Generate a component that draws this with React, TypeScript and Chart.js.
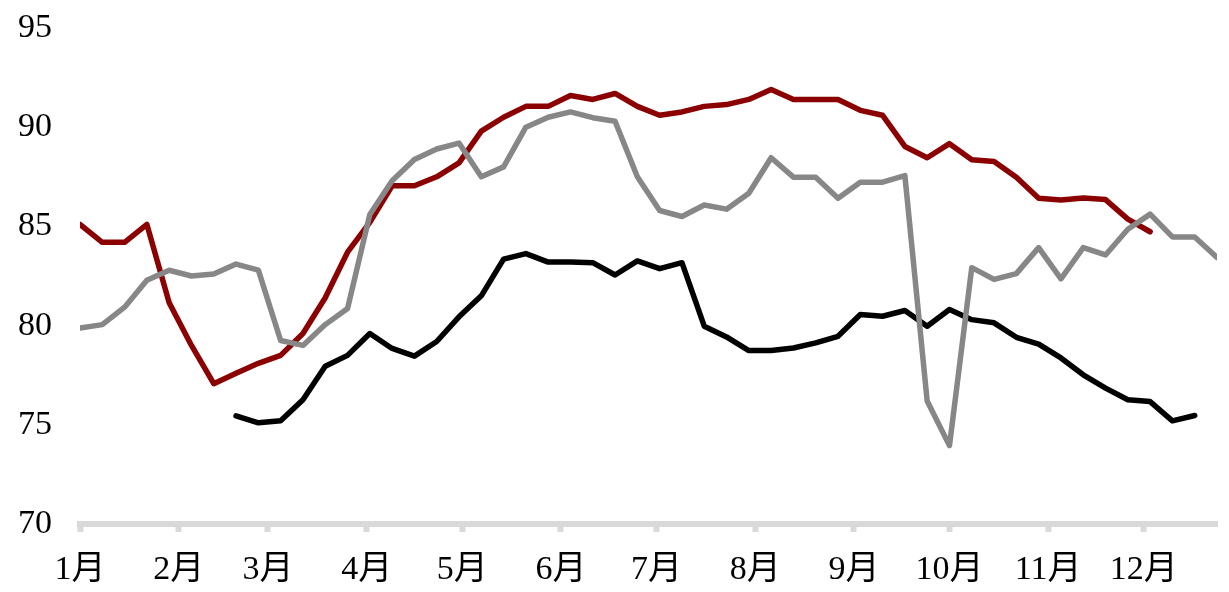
import React, { useEffect, useRef } from "react";
import { Chart, registerables } from "chart.js";

Chart.register(...registerables);

// Weekly observations: day offset from 1 January
const weekDays = [
  0, 7, 14, 21, 28, 35, 42, 49, 56, 63, 70, 77, 84, 91, 98, 105, 112, 119, 126,
  133, 140, 147, 154, 161, 168, 175, 182, 189, 196, 203, 210, 217, 224, 231, 238,
  245, 252, 259, 266, 273, 280, 287, 294, 301, 308, 315, 322, 329, 336, 343, 350,
  357,
];

// Month starts (day offsets) and their labels
const monthDays = [0, 31, 59, 90, 120, 151, 181, 212, 243, 273, 304, 334];
const monthLabels = ["1月", "2月", "3月", "4月", "5月", "6月", "7月", "8月", "9月", "10月", "11月", "12月"];

const yTicks = [70, 75, 80, 85, 90, 95];

const redSeries: (number | null)[] = [
  85.1, 84.2, 84.2, 85.1, 81.15, 79.0, 77.07, 77.6, 78.1, 78.5, 79.6, 81.4, 83.7,
  85.2, 87.05, 87.05, 87.5, 88.2, 89.8, 90.5, 91.05, 91.05, 91.6, 91.4, 91.7,
  91.05, 90.6, 90.77, 91.05, 91.14, 91.4, 91.9, 91.4, 91.4, 91.4, 90.85, 90.6,
  89.03, 88.46, 89.17, 88.36, 88.27, 87.48, 86.42, 86.33, 86.43, 86.35, 85.37,
  84.73, null, null, null,
];

const graySeries: (number | null)[] = [
  79.88, 80.05, 80.93, 82.28, 82.79, 82.5, 82.6, 83.1, 82.8, 79.25, 79.0, 80.05,
  80.86, 85.6, 87.3, 88.37, 88.9, 89.2, 87.5, 88.0, 90.0, 90.5, 90.77, 90.48,
  90.3, 87.5, 85.8, 85.5, 86.08, 85.87, 86.67, 88.46, 87.48, 87.48, 86.42, 87.23,
  87.23, 87.56, 76.2, 73.95, 82.92, 82.33, 82.62, 83.93, 82.36, 83.93, 83.56,
  84.86, 85.62, 84.47, 84.47, 83.43,
];

const blackSeries: (number | null)[] = [
  null, null, null, null, null, null, null, 75.45, 75.1, 75.2, 76.26, 77.95, 78.5,
  79.6, 78.85, 78.46, 79.2, 80.44, 81.5, 83.35, 83.63, 83.2, 83.2, 83.17, 82.55,
  83.26, 82.87, 83.17, 79.97, 79.43, 78.74, 78.74, 78.87, 79.13, 79.46, 80.56,
  80.47, 80.76, 79.97, 80.81, 80.3, 80.14, 79.41, 79.07, 78.37, 77.52, 76.85,
  76.26, 76.17, 75.2, 75.47, null,
];

const toPoints = (vals: (number | null)[]) =>
  vals.map((v, i) => ({ x: weekDays[i], y: v }));

const FONT_FAMILY = '"Liberation Serif", "Noto Sans CJK SC", serif';

export default function App() {
  const canvasRef = useRef<HTMLCanvasElement | null>(null);

  useEffect(() => {
    const canvas = canvasRef.current;
    if (!canvas) return;
    const lineStyle = {
      borderWidth: 5.5,
      pointRadius: 0,
      pointHoverRadius: 0,
      tension: 0,
      fill: false,
      spanGaps: false,
      borderJoinStyle: "round" as const,
      borderCapStyle: "round" as const,
    };
    const chart = new Chart(canvas, {
      type: "line",
      data: {
        datasets: [
          { ...lineStyle, label: "gray", data: toPoints(graySeries), borderColor: "#878787" },
          { ...lineStyle, label: "black", data: toPoints(blackSeries), borderColor: "#000000" },
          { ...lineStyle, label: "red", data: toPoints(redSeries), borderColor: "#8b0000" },
        ],
      },
      options: {
        animation: false,
        responsive: false,
        maintainAspectRatio: false,
        events: [],
        layout: { padding: { left: 0, right: 12, top: 28, bottom: 0 } },
        plugins: {
          legend: { display: false },
          tooltip: { enabled: false },
        },
        scales: {
          x: {
            type: "linear",
            min: weekDays[0],
            max: weekDays[weekDays.length - 1],
            afterFit: (s: any) => {
              s.height = 68;
              s.paddingLeft = 0;
              s.paddingRight = 0;
            },
            afterBuildTicks: (s: any) => {
              s.ticks = monthDays.map((d) => ({ value: d }));
            },
            border: { display: true, color: "#d9d9d9", width: 6 },
            grid: {
              display: true,
              drawOnChartArea: false,
              drawTicks: true,
              tickLength: 8,
              tickWidth: 6,
              color: "#d9d9d9",
            },
            ticks: {
              autoSkip: false,
              maxRotation: 0,
              minRotation: 0,
              padding: 18,
              color: "#000000",
              font: { family: FONT_FAMILY, size: 34 },
              callback: (_v: any, index: number) => monthLabels[index],
            },
          },
          y: {
            type: "linear",
            min: yTicks[0],
            max: yTicks[yTicks.length - 1],
            afterFit: (s: any) => {
              s.width = 80;
              s.paddingTop = 0;
              s.paddingBottom = 0;
            },
            afterBuildTicks: (s: any) => {
              s.ticks = yTicks.map((v) => ({ value: v }));
            },
            border: { display: false },
            grid: { display: false, drawTicks: false },
            ticks: {
              padding: 28,
              color: "#000000",
              font: { family: FONT_FAMILY, size: 34 },
            },
          },
        },
      },
    });
    return () => chart.destroy();
  }, []);

  return (
    <div style={{ position: "fixed", left: 0, top: 0, width: 1229, height: 592, background: "#ffffff" }}>
      <canvas ref={canvasRef} width={1229} height={592} style={{ width: 1229, height: 592, display: "block" }} />
    </div>
  );
}
